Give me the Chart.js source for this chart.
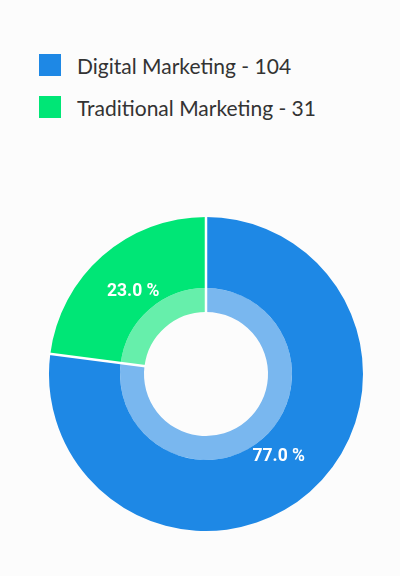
<!DOCTYPE html>
<html>
<head>
<meta charset="utf-8">
<script src="https://cdn.jsdelivr.net/npm/chart.js@4.4.1/dist/chart.umd.min.js"></script>
<style>
    html, body { margin: 0; padding: 0; background: #fcfcfc; }
    body { width: 400px; height: 576px; position: relative; overflow: hidden; font-family: Lato, "Noto Sans", sans-serif; }
    #legend { position: absolute; left: 39px; top: 54px; }
    .item { display: flex; align-items: center; height: 22px; margin-bottom: 20px; font-size: 21px; color: #333; }
    .box { width: 22px; height: 22px; margin-right: 16px; }
    #wrap { position: absolute; left: 0; top: 200px; width: 400px; height: 348px; }
</style>
</head>
<body>
<div id="legend"></div>
<div id="wrap"><canvas id="chart"></canvas></div>
<script>
const categories = ['Digital Marketing', 'Traditional Marketing'];
const values = [104, 31];
const colors = ['#1e88e5', '#00e676'];
const lightColors = ['#79b7ef', '#66efab'];

document.addEventListener("DOMContentLoaded", () => {
    const total = values.reduce((a, b) => a + b, 0);

    // leyenda en HTML a partir de los datos
    const legend = document.getElementById('legend');
    categories.forEach((name, i) => {
        const row = document.createElement('div');
        row.className = 'item';
        row.innerHTML = `<span class="box" style="background:${colors[i]}"></span><span>${name} - ${values[i]}</span>`;
        legend.appendChild(row);
    });

    // líneas blancas entre segmentos y etiquetas de porcentaje
    const extras = {
        id: 'extras',
        afterDatasetsDraw(chart) {
            const ctx = chart.ctx;
            const outer = chart.getDatasetMeta(0).data;
            const inner = chart.getDatasetMeta(1).data;
            ctx.save();
            ctx.strokeStyle = '#ffffff';
            ctx.lineWidth = 2.5;
            outer.forEach((arc, i) => {
                const a = arc.startAngle;
                const r0 = inner[i].innerRadius - 1;
                const r1 = arc.outerRadius + 1;
                ctx.beginPath();
                ctx.moveTo(arc.x + Math.cos(a) * r0, arc.y + Math.sin(a) * r0);
                ctx.lineTo(arc.x + Math.cos(a) * r1, arc.y + Math.sin(a) * r1);
                ctx.stroke();
            });
            ctx.fillStyle = '#ffffff';
            ctx.font = 'bold 17.5px Roboto, sans-serif';
            ctx.textAlign = 'center';
            ctx.textBaseline = 'middle';
            outer.forEach((arc, i) => {
                const mid = (arc.startAngle + arc.endAngle) / 2;
                const r = arc.innerRadius + (arc.outerRadius - arc.innerRadius) * 0.34;
                const text = (values[i] / total * 100).toFixed(1) + ' %';
                ctx.fillText(text, arc.x + Math.cos(mid) * r, arc.y + Math.sin(mid) * r);
            });
            ctx.restore();
        }
    };

    new Chart(document.getElementById('chart'), {
        type: 'doughnut',
        data: {
            labels: categories,
            datasets: [{
                data: values,
                backgroundColor: colors,
                borderWidth: 0,
                weight: 71
            }, {
                data: values,
                backgroundColor: lightColors,
                borderWidth: 0,
                weight: 24
            }]
        },
        options: {
            responsive: true,
            maintainAspectRatio: false,
            animation: false,
            radius: 157,
            cutout: '39.5%',
            layout: { padding: { left: 12, right: 0, top: 0, bottom: 0 } },
            plugins: {
                legend: { display: false },
                tooltip: { enabled: false }
            }
        },
        plugins: [extras]
    });
});
</script>
</body>
</html>
